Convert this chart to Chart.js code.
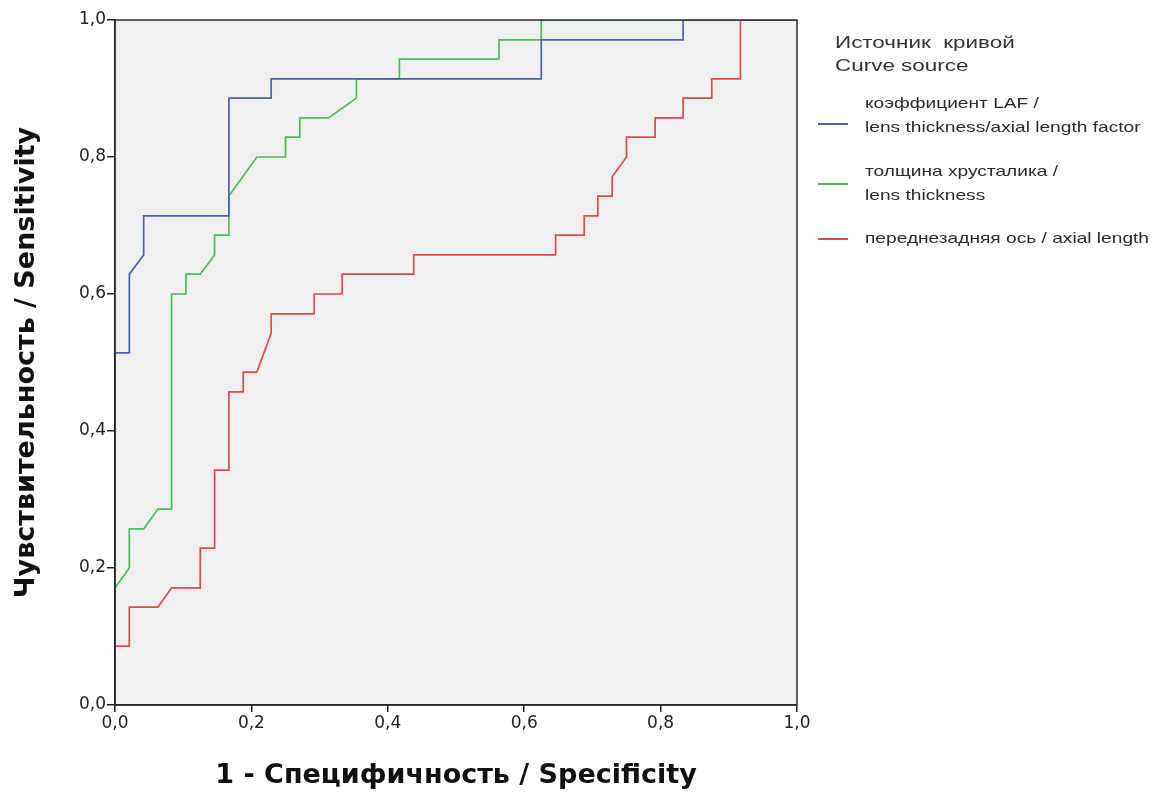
<!DOCTYPE html>
<html>
<head>
<meta charset="utf-8">
<script src="https://cdn.jsdelivr.net/npm/chart.js@4/dist/chart.umd.min.js"></script>
<style>
  html, body { margin: 0; padding: 0; background: #ffffff; }
  #wrap { position: relative; width: 1155px; height: 794px; overflow: hidden; }
  canvas { position: absolute; left: 0; top: 0; }
  .lg { position: absolute; font-family: "Liberation Sans", Arial, sans-serif; color: #2a2a2a; white-space: nowrap; transform: scaleX(1.32); transform-origin: 0 0; }
  .lgTitle { font-size: 17px; line-height: 23px; color: #333; }
  .lgItem { font-size: 14.5px; line-height: 24px; }
  .sw { position: absolute; width: 30px; height: 0; border-top: 2px solid; }
</style>
</head>
<body>
<div id="wrap">
  <canvas id="c" width="1155" height="794"></canvas>
  <div class="lg lgTitle" style="left:835px; top:31px;">Источник&nbsp; кривой<br>Curve source</div>
  <div class="sw" style="left:818px; top:123px; border-color:#5060a6;"></div>
  <div class="lg lgItem" style="left:865px; top:91px;">коэффициент LAF /<br>lens thickness/axial length factor</div>
  <div class="sw" style="left:818px; top:183px; border-color:#4cbb58;"></div>
  <div class="lg lgItem" style="left:865px; top:159px;">толщина хрусталика /<br>lens thickness</div>
  <div class="sw" style="left:818px; top:238px; border-color:#de4a50;"></div>
  <div class="lg lgItem" style="left:865px; top:226px;">переднезадняя ось / axial length</div>
</div>
<script>
// Tick labels
const tickValues = [0, 0.2, 0.4, 0.6, 0.8, 1.0];

// Series: коэффициент LAF (blue)
const lafX = [0, 0, 0.021, 0.021, 0.042, 0.042, 0.167, 0.167, 0.229, 0.229, 0.625, 0.625, 0.833, 0.833, 1];
const lafY = [0, 0.514, 0.514, 0.629, 0.657, 0.714, 0.714, 0.886, 0.886, 0.914, 0.914, 0.971, 0.971, 1, 1];

// Series: толщина хрусталика (green)
const lensX = [0, 0, 0.021, 0.021, 0.042, 0.063, 0.083, 0.083, 0.104, 0.104, 0.125, 0.146, 0.146, 0.167, 0.167, 0.208, 0.25, 0.25, 0.271, 0.271, 0.313, 0.354, 0.354, 0.417, 0.417, 0.563, 0.563, 0.625, 0.625, 1];
const lensY = [0, 0.171, 0.2, 0.257, 0.257, 0.286, 0.286, 0.6, 0.6, 0.629, 0.629, 0.657, 0.686, 0.686, 0.743, 0.8, 0.8, 0.829, 0.829, 0.857, 0.857, 0.886, 0.914, 0.914, 0.943, 0.943, 0.971, 0.971, 1, 1];

// Series: переднезадняя ось (red)
const axialX = [0, 0, 0.021, 0.021, 0.063, 0.083, 0.125, 0.125, 0.146, 0.146, 0.167, 0.167, 0.188, 0.188, 0.208, 0.229, 0.229, 0.292, 0.292, 0.333, 0.333, 0.438, 0.438, 0.646, 0.646, 0.688, 0.688, 0.708, 0.708, 0.729, 0.729, 0.75, 0.75, 0.792, 0.792, 0.833, 0.833, 0.875, 0.875, 0.917, 0.917, 1];
const axialY = [0, 0.086, 0.086, 0.143, 0.143, 0.171, 0.171, 0.229, 0.229, 0.343, 0.343, 0.457, 0.457, 0.486, 0.486, 0.543, 0.571, 0.571, 0.6, 0.6, 0.629, 0.629, 0.657, 0.657, 0.686, 0.686, 0.714, 0.714, 0.743, 0.743, 0.771, 0.8, 0.829, 0.829, 0.857, 0.857, 0.886, 0.886, 0.914, 0.914, 1, 1];

const zip = (xs, ys) => xs.map((x, i) => ({x: x, y: ys[i]}));
const fmt = v => Number(v).toFixed(1).replace('.', ',');

const frame = {
  id: 'frame',
  beforeDraw(chart) {
    const {ctx, chartArea: a} = chart;
    ctx.save();
    ctx.fillStyle = '#f0f0f0';
    ctx.fillRect(a.left, a.top, a.right - a.left, a.bottom - a.top);
    ctx.restore();
  },
  afterDraw(chart) {
    const {ctx, chartArea: a} = chart;
    ctx.save();
    ctx.strokeStyle = '#2b2b2b';
    ctx.lineWidth = 1.5;
    ctx.strokeRect(a.left, a.top, a.right - a.left, a.bottom - a.top);
    ctx.restore();
  }
};

const tickFont = {family: '"DejaVu Sans", sans-serif', size: 17};
const xTitleFont = {family: '"DejaVu Sans", sans-serif', size: 27, weight: 'bold'};
const yTitleFont = {family: '"DejaVu Sans", sans-serif', size: 27, weight: 'bold'};

new Chart(document.getElementById('c'), {
  type: 'scatter',
  data: {
    datasets: [
      {label: 'коэффициент LAF', data: zip(lafX, lafY), borderColor: '#5060a6'},
      {label: 'толщина хрусталика', data: zip(lensX, lensY), borderColor: '#4cbb58'},
      {label: 'переднезадняя ось', data: zip(axialX, axialY), borderColor: '#de4a50'}
    ].map(d => Object.assign(d, {showLine: true, pointRadius: 0, borderWidth: 1.7, tension: 0, fill: false}))
  },
  options: {
    responsive: false,
    animation: false,
    layout: {padding: {left: 0, right: 358, top: 20, bottom: 0}},
    plugins: {legend: {display: false}, tooltip: {enabled: false}},
    scales: {
      x: {
        type: 'linear', min: 0, max: 1,
        afterFit(s) { s.height = 89; },
        afterBuildTicks(s) { s.ticks = tickValues.map(v => ({value: v})); },
        ticks: {callback: fmt, font: tickFont, color: '#222', padding: 1, maxRotation: 0},
        grid: {drawOnChartArea: false, drawTicks: true, tickLength: 7, color: '#222', lineWidth: 1.5},
        border: {color: '#222', width: 1.5},
        title: {display: true, text: '1 - Специфичность / Specificity', font: xTitleFont, color: '#111', padding: {top: 0, bottom: 2}}
      },
      y: {
        type: 'linear', min: 0, max: 1,
        afterFit(s) { s.width = 115; },
        afterBuildTicks(s) { s.ticks = tickValues.map(v => ({value: v})); },
        ticks: {callback: fmt, font: tickFont, color: '#222', padding: 1},
        grid: {drawOnChartArea: false, drawTicks: true, tickLength: 8, color: '#222', lineWidth: 1.5},
        border: {color: '#222', width: 1.5},
        title: {display: true, text: 'Чувствительность / Sensitivity', font: yTitleFont, color: '#111', padding: {top: 11, bottom: 0}}
      }
    }
  },
  plugins: [frame]
});
</script>
</body>
</html>
